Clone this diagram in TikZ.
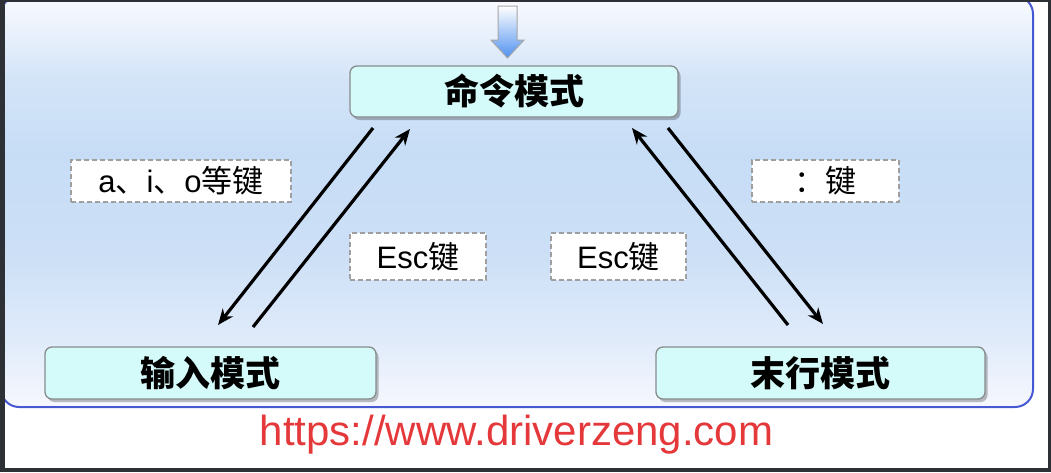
\documentclass[tikz,border=0pt]{standalone}
\usepackage{fontspec}
\setmainfont{Liberation Sans}
\newfontfamily\cjk{Noto Sans CJK SC}
\usetikzlibrary{arrows.meta,shadows,calc}
\definecolor{framec}{RGB}{45,48,53}
\definecolor{panelborder}{RGB}{70,88,210}
\definecolor{modefill}{RGB}{213,250,250}
\definecolor{modeborder}{RGB}{135,140,140}
\definecolor{arrowblue}{RGB}{80,145,240}
\definecolor{urlred}{RGB}{229,56,59}
\pgfdeclareverticalshading{panelshade}{100bp}{
  rgb(0bp)=(0.965,0.969,0.996);
  rgb(25bp)=(0.965,0.969,0.996);
  rgb(34bp)=(0.87,0.918,0.98);
  rgb(44bp)=(0.80,0.875,0.965);
  rgb(56bp)=(0.78,0.868,0.965);
  rgb(65bp)=(0.83,0.895,0.972);
  rgb(72bp)=(0.935,0.957,0.992);
  rgb(75bp)=(0.975,0.98,1);
  rgb(100bp)=(0.975,0.98,1)}
\tikzset{
  mode/.style={draw=modeborder, line width=1.3pt, fill=modefill, rounded corners=7pt,
    inner sep=0pt, font=\cjk\bfseries\fontsize{35}{40}\selectfont,
    drop shadow={shadow xshift=2.5pt, shadow yshift=-3pt, opacity=0.25, fill=black}},
  keylab/.style={draw=gray!75, dash pattern=on 5pt off 3pt, line width=1.3pt, fill=white,
    inner sep=0pt, font=\fontsize{31}{36}\selectfont},
  arr/.style={line width=3.2pt, -{Stealth[length=16pt,width=13pt]}}
}
\begin{document}
\begin{tikzpicture}[x=1pt,y=-1pt]
\useasboundingbox (0,0) rectangle (1051,472);
\fill[framec] (0,0) rectangle (1051,472);
\fill[white] (5,2) rectangle (1048,468);
\begin{scope}
\clip (5,2) rectangle (1048,468);
\shade[shading=panelshade, rounded corners=18pt] (1,-4) rectangle (1033,407);
\draw[panelborder, line width=2pt, rounded corners=18pt] (1,-4) rectangle (1033,407);
\end{scope}
% entry arrow
\shade[top color=white, bottom color=arrowblue] (498,6) -- (517,6) -- (517,40) -- (524,40) -- (507.5,58) -- (491,40) -- (498,40) -- cycle;
\draw[gray!70, line width=1pt] (498,6) -- (517,6) -- (517,40) -- (524,40) -- (507.5,58) -- (491,40) -- (498,40) -- cycle;
% mode nodes
\node[mode, minimum width=328pt, minimum height=51pt] (cmd) at (514,91.5) {命令模式};
\node[mode, minimum width=331pt, minimum height=52pt] (inp) at (210.5,373) {输入模式};
\node[mode, minimum width=329pt, minimum height=52pt] (last) at (820.5,373) {末行模式};
% key labels
\node[keylab, minimum width=220pt, minimum height=42pt] (kaio) at (181,181) {a{\cjk 、}i{\cjk 、}o{\cjk 等键}};
\node[keylab, minimum width=136pt, minimum height=47pt] (esc1) at (418,256.5) {Esc{\cjk 键}};
\node[keylab, minimum width=135pt, minimum height=47pt] (esc2) at (618.5,256.5) {Esc{\cjk 键}};
\node[keylab, minimum width=147pt, minimum height=42pt] (colon) at (825.5,181) {\cjk ：键};
% connector endpoints
\coordinate (c1) at (373,128);
\coordinate (i1) at (218,325);
\coordinate (i2) at (253,327);
\coordinate (c2) at (410,129);
\coordinate (c3) at (668,128);
\coordinate (l1) at (823,324);
\coordinate (l2) at (788,325);
\coordinate (c4) at (632,128);
\draw[arr] (c1) -- (i1);
\draw[arr] (i2) -- (c2);
\draw[arr] (c3) -- (l1);
\draw[arr] (l2) -- (c4);
% url
\node[anchor=base, text=urlred, inner sep=0pt, font=\fontsize{42}{48}\selectfont] (url) at (516.5,445) {https://www.driverzeng.com};
\end{tikzpicture}
\end{document}
